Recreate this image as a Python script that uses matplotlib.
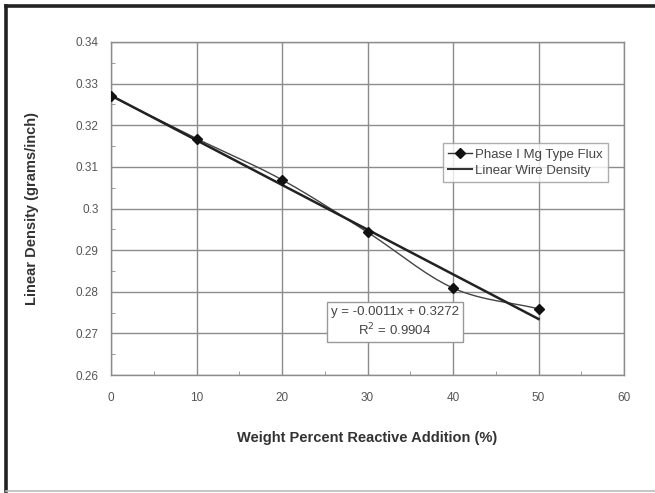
import numpy as np
import matplotlib
matplotlib.use("Agg")
import matplotlib.pyplot as plt
from matplotlib.lines import Line2D

# Measured linear density vs. reactive addition
weight_pct = [0, 10, 20, 30, 40, 50]
density = [0.327, 0.3168, 0.3069, 0.2943, 0.2809, 0.2759]

series_label = "Phase I Mg Type Flux"
trend_label = "Linear Wire Density"
fit_text = "y = -0.0011x + 0.3272\nR$^2$ = 0.9904"

x_ticks = [0, 10, 20, 30, 40, 50, 60]
y_ticks = [0.26, 0.27, 0.28, 0.29, 0.30, 0.31, 0.32, 0.33, 0.34]
y_tick_labels = ["0.26", "0.27", "0.28", "0.29", "0.3", "0.31", "0.32", "0.33", "0.34"]


def smooth_curve(x, y, n=40):
    """Catmull-Rom style smoothing through the points (like a smoothed scatter line)."""
    x = np.asarray(x, float)
    y = np.asarray(y, float)
    px = np.concatenate([[2 * x[0] - x[1]], x, [2 * x[-1] - x[-2]]])
    py = np.concatenate([[2 * y[0] - y[1]], y, [2 * y[-1] - y[-2]]])
    xs, ys = [], []
    t = np.linspace(0, 1, n)
    for i in range(1, len(px) - 2):
        for arr, out in ((px, xs), (py, ys)):
            p0, p1, p2, p3 = arr[i - 1], arr[i], arr[i + 1], arr[i + 2]
            c1 = p1 + (p2 - p0) / 6
            c2 = p2 - (p3 - p1) / 6
            out.extend((1 - t) ** 3 * p1 + 3 * (1 - t) ** 2 * t * c1
                       + 3 * (1 - t) * t ** 2 * c2 + t ** 3 * p2)
    return np.array(xs), np.array(ys)


plt.rcParams["font.family"] = ["Liberation Sans", "DejaVu Sans"]

fig = plt.figure(figsize=(6.55, 4.93), dpi=100)
fig.patch.set_facecolor("white")

# Outer frame: heavy top and left edges, light bottom edge
fig.add_artist(Line2D([6 / 655, 1.0], [1 - 6 / 493, 1 - 6 / 493],
                      transform=fig.transFigure, color="#222222", lw=2.6))
fig.add_artist(Line2D([6 / 655, 6 / 655], [1 - 6 / 493, 1 - 491 / 493],
                      transform=fig.transFigure, color="#222222", lw=2.6))
fig.add_artist(Line2D([6 / 655, 1.0], [1 - 491 / 493, 1 - 491 / 493],
                      transform=fig.transFigure, color="#bbbbbb", lw=1.2))

ax = fig.add_axes([111 / 655, 1 - 375 / 493, (624 - 111) / 655, (375 - 42) / 493])
ax.set_xlim(0, 60)
ax.set_ylim(0.26, 0.34)
ax.set_xticks(x_ticks)
ax.set_yticks(y_ticks)
ax.set_yticklabels(y_tick_labels)
ax.set_xticks(np.arange(5, 60, 10), minor=True)
ax.set_yticks(np.arange(0.265, 0.34, 0.01), minor=True)
ax.grid(True, which="major", color="#8c8c8c", lw=1.0)
ax.set_axisbelow(True)
for s in ax.spines.values():
    s.set_color("#8c8c8c")
    s.set_linewidth(1.0)
ax.tick_params(which="major", length=0, labelsize=8.5, colors="#555555")
ax.tick_params(axis="x", pad=12)
ax.tick_params(axis="y", pad=9)
ax.tick_params(which="minor", direction="in", length=3, color="#8c8c8c")

# Smoothed data series with markers
sx, sy = smooth_curve(weight_pct, density)
ax.plot(sx, sy, color="#444444", lw=1.0, zorder=3)
ax.plot(weight_pct, density, ls="none", marker="D", ms=5.5, color="#111111", zorder=4)

# Linear trend line
coef = np.polyfit(weight_pct, density, 1)
tx = np.array([weight_pct[0], weight_pct[-1]])
ax.plot(tx, np.polyval(coef, tx), color="#222222", lw=1.8, zorder=3)

ax.set_xlabel("Weight Percent Reactive Addition (%)", fontsize=10.5, fontweight="bold",
              color="#333333", labelpad=20)
ax.set_ylabel("Linear Density (grams/inch)", fontsize=10.5, fontweight="bold",
              color="#333333", labelpad=26)

handles = [
    Line2D([], [], color="#333333", lw=1.0, marker="D", ms=5, mfc="#111111", mec="#111111"),
    Line2D([], [], color="#333333", lw=1.5),
]
leg = ax.legend(handles, [series_label, trend_label], loc="upper left",
                bbox_to_anchor=((443 - 111) / 513, 1 - (143 - 42) / 333),
                fontsize=9.5, frameon=True, fancybox=False, borderpad=0.4,
                handlelength=1.8, handletextpad=0.2, labelspacing=0.3,
                borderaxespad=0)
leg.get_frame().set_edgecolor("#999999")
leg.get_frame().set_linewidth(1.0)
for t in leg.get_texts():
    t.set_color("#444444")

ax.text((395 - 111) / 513 * 60, 0.26 + (375 - 322) / 4162.5, fit_text,
        ha="center", va="center", fontsize=9.5, color="#444444", linespacing=1.25,
        bbox=dict(boxstyle="square,pad=0.3", fc="white", ec="#999999", lw=1.0),
        zorder=5)

fig.savefig("out.png", dpi=100, facecolor="white")
